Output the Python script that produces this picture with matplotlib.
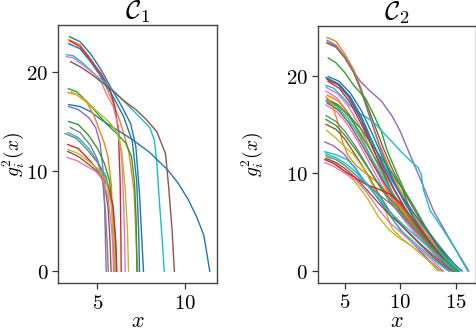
import matplotlib
matplotlib.use("Agg")
import matplotlib.pyplot as plt
from matplotlib.ticker import FuncFormatter, FixedLocator

plt.rcParams['mathtext.fontset'] = 'cm'

# curves of cluster C1 (x values, y values)
c1_x = [
    [3.4, 4.0, 4.6, 5.2, 5.8, 6.4, 6.9, 7.2, 7.4, 7.55, 7.64],
    [3.35, 4.0, 4.6, 5.2, 5.8, 6.3, 6.8, 7.1, 7.22, 7.3],
    [3.4, 4.0, 4.6, 5.2, 5.7, 6.0, 6.2, 6.3, 6.34, 6.36],
    [3.35, 4.0, 4.6, 5.2, 5.8, 6.5, 7.0, 7.25, 7.36, 7.41],
    [3.2, 3.6, 4.2, 4.8, 5.5, 6.2, 7.0, 7.5, 8.0, 8.25, 8.4, 8.55, 8.7, 8.83],
    [3.2, 3.6, 4.2, 4.8, 5.2, 5.5, 5.9, 6.2, 6.4, 6.5, 6.56, 6.59],
    [3.45, 4.0, 4.6, 5.2, 5.8, 6.5, 7.2, 7.8, 8.4, 8.9, 9.08, 9.28, 9.41],
    [3.35, 4.0, 4.6, 5.2, 6.0, 7.0, 8.0, 9.0, 9.6, 10.2, 10.7, 11.1, 11.3, 11.44],
    [3.33, 3.8, 4.4, 5.0, 5.5, 6.1, 6.6, 6.95, 7.12, 7.22, 7.26],
    [3.33, 3.8, 4.4, 4.8, 5.1, 5.4, 5.6, 5.8, 5.88, 5.92],
    [3.5, 4.2, 4.8, 5.4, 5.8, 6.15, 6.4, 6.6, 6.72, 6.78],
    [3.35, 3.9, 4.5, 4.9, 5.15, 5.3, 5.4, 5.46, 5.5],
    [3.35, 3.9, 4.5, 5.0, 5.4, 5.7, 5.85, 5.95, 6.0],
    [3.45, 4.0, 4.6, 5.0, 5.3, 5.45, 5.55, 5.62],
    [3.3, 3.9, 4.5, 5.0, 5.5, 5.8, 5.95, 6.02],
    [3.15, 3.8, 4.4, 5.0, 5.5, 5.85, 6.0, 6.08],
    [3.3, 3.9, 4.6, 5.2, 5.6, 5.9, 6.05, 6.11],
    [3.3, 3.9, 4.5, 5.0, 5.5, 5.8, 5.95, 6.02],
    [3.3, 3.9, 4.5, 5.0, 5.4, 5.6, 5.72, 5.78],
    [3.25, 3.8, 4.4, 4.9, 5.3, 5.6, 5.8, 5.9, 5.95],
]
c1_y = [
    [23.5, 23.0, 21.8, 20.2, 18.3, 16.5, 14.8, 12.5, 8.0, 3.0, 0.0],
    [23.2, 22.7, 21.3, 19.6, 17.3, 15.0, 12.0, 8.0, 3.0, 0.0],
    [23.1, 22.5, 21.2, 19.8, 18.3, 16.5, 14.0, 9.0, 4.0, 0.0],
    [22.8, 22.3, 21.0, 19.5, 17.8, 15.5, 13.0, 9.0, 4.0, 0.0],
    [21.7, 21.6, 20.8, 19.8, 18.8, 17.6, 16.2, 15.3, 14.4, 13.2, 11.0, 7.0, 3.5, 0.0],
    [21.5, 21.4, 20.6, 19.8, 19.0, 17.8, 16.5, 14.5, 11.0, 7.0, 3.0, 0.0],
    [21.0, 20.5, 19.8, 19.0, 18.2, 17.1, 16.2, 15.2, 14.0, 11.8, 8.5, 4.1, 0.0],
    [16.7, 16.5, 16.0, 15.2, 14.3, 13.2, 11.9, 10.2, 8.9, 7.2, 5.4, 3.6, 1.5, 0.0],
    [18.3, 18.0, 17.0, 15.8, 14.8, 13.8, 12.9, 11.5, 9.0, 5.0, 0.0],
    [17.9, 17.7, 16.9, 15.6, 14.2, 12.8, 11.5, 8.5, 4.0, 0.0],
    [18.0, 17.3, 16.3, 15.4, 14.7, 13.8, 12.0, 8.0, 4.0, 0.0],
    [16.5, 16.2, 15.4, 14.4, 12.8, 10.5, 7.0, 3.0, 0.0],
    [15.0, 14.7, 13.6, 12.3, 10.8, 9.0, 6.0, 3.0, 0.0],
    [14.4, 13.9, 12.6, 11.2, 9.0, 6.0, 3.0, 0.0],
    [13.9, 13.4, 12.3, 11.0, 9.5, 7.0, 4.0, 0.0],
    [13.8, 13.3, 12.2, 10.9, 9.2, 7.0, 3.5, 0.0],
    [12.7, 12.3, 11.0, 9.8, 8.5, 6.5, 3.0, 0.0],
    [12.2, 11.8, 11.0, 10.3, 9.0, 6.5, 3.0, 0.0],
    [12.0, 11.5, 10.7, 10.0, 8.8, 6.5, 3.0, 0.0],
    [11.4, 11.1, 10.5, 10.0, 9.2, 7.5, 4.5, 2.0, 0.0],
]
c1_colors = ['tab:blue', 'tab:orange', 'tab:red', 'tab:blue', 'tab:cyan',
             'tab:pink', 'tab:brown', 'tab:blue', 'tab:green', 'tab:orange',
             'tab:olive', 'tab:purple', 'tab:green', 'tab:gray', 'tab:cyan',
             'tab:gray', 'tab:red', 'tab:olive', 'tab:brown', 'tab:pink']

# curves of cluster C2
c2_x = [
    [3.4, 4.2, 5.0, 5.8, 6.4, 7.2, 8.3, 9.3, 10.0, 10.7, 11.6, 13.0, 14.7, 16.2],
    [3.4, 4.2, 5.0, 5.8, 6.5, 7.2, 8.0, 9.0, 10.0, 11.0, 12.0, 13.0, 14.0, 15.0, 15.3],
    [3.4, 4.2, 5.0, 5.8, 6.5, 7.2, 7.8, 8.5, 9.3, 10.2, 11.2, 12.2, 13.2, 14.2, 15.1],
    [3.4, 4.2, 5.0, 5.8, 6.5, 7.3, 8.2, 9.2, 10.2, 11.2, 12.2, 13.2, 14.2, 15.0],
    [3.5, 4.2, 5.0, 5.8, 6.9, 7.6, 8.3, 8.8, 9.5, 10.4, 11.3, 12.3, 13.5, 14.5, 15.2],
    [3.3, 4.0, 4.8, 5.5, 6.2, 7.0, 7.8, 8.6, 9.2, 10.0, 11.0, 11.6, 11.9, 12.1, 12.7, 13.9, 15.0, 16.1],
    [3.5, 4.5, 5.5, 6.5, 7.5, 8.5, 9.5, 10.5, 11.5, 12.5, 13.5, 14.5, 15.3],
    [3.4, 4.5, 5.5, 6.5, 7.5, 8.5, 9.5, 10.5, 11.5, 12.5, 13.5, 14.5, 15.1],
    [3.4, 4.5, 5.5, 6.5, 7.5, 8.5, 9.3, 9.6, 10.0, 11.0, 12.0, 13.0, 14.0, 14.8],
    [3.5, 4.5, 5.5, 6.5, 7.5, 8.5, 9.5, 10.5, 11.5, 12.5, 13.5, 14.5, 15.0],
    [3.3, 4.3, 5.3, 6.3, 7.3, 8.3, 9.3, 10.3, 11.3, 12.3, 13.3, 14.3, 15.1],
    [3.3, 4.3, 5.3, 6.3, 7.3, 8.3, 9.3, 10.3, 11.3, 12.3, 13.3, 14.3, 14.8],
    [3.4, 4.4, 5.4, 6.4, 7.4, 8.4, 9.4, 10.4, 11.4, 12.4, 13.4, 14.4, 15.3],
    [3.4, 4.4, 5.4, 6.4, 7.4, 8.4, 9.2, 10.0, 11.0, 12.0, 13.0, 14.0, 15.0, 15.3],
    [3.3, 4.3, 5.3, 6.3, 7.3, 8.3, 9.3, 10.3, 11.3, 12.3, 13.3, 14.3, 15.4],
    [3.4, 4.4, 5.4, 6.4, 7.4, 8.4, 9.4, 10.4, 11.4, 12.4, 13.4, 14.4, 15.0],
    [3.3, 4.3, 5.3, 6.3, 7.3, 8.3, 9.3, 10.3, 11.3, 12.3, 13.3, 14.3, 14.7],
    [3.4, 4.4, 5.4, 6.4, 7.4, 8.4, 9.4, 10.2, 10.8, 11.6, 12.6, 13.6, 14.6, 15.2],
    [3.3, 3.8, 4.3, 4.8, 5.3, 6.0, 7.0, 8.0, 9.0, 10.0, 11.0, 12.0, 13.0, 14.0, 14.9],
    [3.3, 4.2, 5.0, 6.0, 7.0, 8.0, 9.0, 10.0, 11.0, 12.0, 13.0, 14.0, 14.9],
    [3.3, 4.2, 5.0, 6.0, 7.0, 8.0, 9.0, 10.0, 11.0, 12.0, 13.0, 14.0, 15.0],
    [3.3, 4.2, 5.0, 6.0, 7.0, 8.0, 9.0, 10.0, 11.0, 12.0, 13.0, 14.0, 14.4],
    [3.35, 4.2, 5.0, 5.8, 6.7, 7.6, 8.5, 9.3, 10.2, 11.2, 12.4, 13.4],
    [3.2, 4.0, 4.9, 5.8, 6.7, 7.6, 8.5, 9.5, 10.5, 11.5, 12.5, 13.5, 13.8],
    [3.2, 4.2, 5.2, 6.0, 6.7, 7.5, 8.2, 9.2, 10.0, 11.0, 12.0, 13.0, 14.0, 14.4],
    [3.3, 4.2, 5.0, 6.0, 7.0, 8.0, 9.0, 10.0, 11.0, 12.0, 13.0, 14.0, 14.7],
    [3.3, 4.2, 5.0, 6.0, 7.0, 8.0, 9.0, 10.0, 11.0, 12.0, 13.0, 13.6],
    [3.3, 4.2, 5.0, 6.0, 7.0, 8.0, 9.0, 10.0, 11.0, 12.0, 13.0, 14.0, 14.6],
    [3.2, 4.0, 5.0, 6.0, 7.0, 8.0, 9.0, 10.0, 11.0, 12.0, 13.0, 14.0, 14.8],
    [3.2, 4.0, 5.0, 6.0, 7.0, 8.0, 9.0, 10.0, 11.0, 12.0, 13.0, 13.9],
    [3.3, 4.2, 5.2, 6.2, 7.2, 8.2, 9.2, 10.2, 11.2, 12.2, 13.2, 14.2, 14.9],
    [3.3, 4.3, 5.3, 6.3, 7.3, 8.3, 9.3, 10.3, 11.3, 12.3, 13.3, 14.3, 15.0, 15.6],
]
c2_y = [
    [23.6, 23.1, 21.9, 20.4, 19.4, 18.5, 17.4, 15.8, 14.3, 12.4, 10.0, 6.2, 2.8, 0.0],
    [23.9, 23.5, 22.2, 20.6, 18.6, 16.0, 13.3, 10.6, 8.3, 6.3, 4.5, 2.9, 1.5, 0.3, 0.0],
    [23.3, 22.9, 21.8, 20.3, 18.4, 16.4, 14.6, 12.5, 10.4, 8.4, 6.4, 4.5, 2.8, 1.3, 0.0],
    [23.4, 23.0, 21.9, 20.4, 18.3, 15.6, 12.6, 9.8, 7.5, 5.6, 3.9, 2.4, 1.0, 0.0],
    [21.8, 21.3, 20.3, 19.0, 17.6, 16.0, 14.3, 12.4, 10.5, 8.2, 6.5, 4.5, 2.5, 1.0, 0.0],
    [19.0, 18.7, 17.8, 16.9, 16.2, 15.7, 15.0, 14.0, 13.3, 12.3, 11.2, 10.6, 9.9, 8.3, 6.2, 4.2, 2.2, 0.0],
    [19.9, 19.4, 18.2, 16.4, 14.0, 11.4, 8.9, 6.8, 4.9, 3.3, 1.9, 0.7, 0.0],
    [19.7, 19.1, 17.8, 15.8, 13.2, 10.6, 8.3, 6.3, 4.6, 3.1, 1.8, 0.6, 0.0],
    [19.6, 19.0, 17.6, 15.4, 12.7, 10.0, 8.0, 7.0, 6.2, 4.6, 3.2, 1.9, 0.8, 0.0],
    [19.4, 18.7, 17.2, 15.0, 12.6, 10.3, 8.2, 6.3, 4.6, 3.0, 1.6, 0.5, 0.0],
    [18.8, 18.2, 16.9, 14.9, 12.5, 10.1, 8.0, 6.2, 4.6, 3.2, 1.9, 0.8, 0.0],
    [18.4, 17.7, 16.2, 14.0, 11.6, 9.3, 7.3, 5.6, 4.1, 2.8, 1.6, 0.5, 0.0],
    [18.0, 17.4, 16.0, 13.9, 11.5, 9.3, 7.4, 5.8, 4.4, 3.1, 1.9, 0.8, 0.0],
    [17.6, 17.0, 15.8, 14.1, 12.2, 10.2, 8.2, 6.8, 5.2, 3.8, 2.5, 1.2, 0.2, 0.0],
    [17.4, 16.8, 15.6, 13.8, 11.8, 9.8, 8.0, 6.4, 5.0, 3.6, 2.3, 1.1, 0.0],
    [17.2, 16.5, 15.1, 13.2, 11.2, 9.3, 7.6, 6.0, 4.5, 3.1, 1.8, 0.6, 0.0],
    [17.0, 16.3, 14.9, 13.0, 10.9, 8.8, 6.9, 5.3, 3.9, 2.7, 1.5, 0.4, 0.0],
    [17.5, 16.9, 15.9, 14.6, 13.0, 11.4, 9.8, 8.4, 6.5, 4.6, 3.0, 1.6, 0.5, 0.0],
    [17.8, 17.2, 15.5, 13.2, 11.8, 10.8, 9.9, 9.0, 7.9, 6.6, 5.0, 3.5, 2.2, 1.0, 0.0],
    [15.9, 15.3, 14.3, 12.7, 10.8, 8.9, 7.2, 5.8, 4.6, 3.4, 2.2, 1.0, 0.0],
    [15.5, 14.9, 13.9, 12.4, 10.7, 9.0, 7.5, 6.2, 4.8, 3.5, 2.2, 1.0, 0.0],
    [15.0, 14.5, 13.5, 11.8, 10.0, 8.0, 6.2, 4.8, 3.6, 2.5, 1.4, 0.4, 0.0],
    [14.4, 13.6, 12.7, 11.9, 10.5, 8.6, 6.6, 4.3, 3.3, 2.4, 1.3, 0.0],
    [13.2, 12.8, 12.0, 10.7, 9.3, 8.0, 6.6, 5.0, 3.6, 2.4, 1.2, 0.2, 0.0],
    [12.2, 11.9, 11.4, 10.5, 9.3, 8.4, 7.6, 5.5, 4.2, 3.2, 2.2, 1.2, 0.3, 0.0],
    [11.8, 11.4, 10.8, 9.8, 8.8, 7.9, 7.0, 6.0, 4.8, 3.4, 2.0, 0.8, 0.0],
    [11.7, 11.0, 10.2, 9.0, 7.5, 5.6, 4.2, 3.3, 2.6, 1.6, 0.6, 0.0],
    [11.5, 11.1, 10.5, 9.5, 8.3, 7.0, 5.8, 4.8, 3.7, 2.6, 1.6, 0.6, 0.0],
    [11.4, 11.0, 10.2, 9.5, 8.8, 8.4, 7.9, 7.0, 5.5, 4.0, 2.5, 1.1, 0.0],
    [11.1, 10.7, 10.0, 9.3, 8.0, 6.4, 5.0, 4.0, 3.0, 2.0, 1.0, 0.0],
    [12.0, 11.6, 10.9, 9.9, 8.6, 7.2, 5.9, 4.8, 3.8, 2.8, 1.8, 0.8, 0.0],
    [19.8, 19.2, 17.9, 15.9, 13.6, 11.3, 9.2, 7.4, 5.8, 4.3, 2.9, 1.5, 0.6, 0.0],
]
c2_colors = ['tab:purple', 'tab:orange', 'tab:brown', 'tab:gray', 'tab:green',
             'tab:cyan', 'tab:blue', 'tab:blue', 'tab:red', 'tab:red',
             'tab:pink', 'tab:pink', 'tab:orange', 'tab:green', 'tab:cyan',
             'tab:brown', 'tab:pink', 'tab:green', 'tab:orange', 'tab:gray',
             'tab:green', 'tab:brown', 'tab:olive', 'tab:purple', 'tab:cyan',
             'tab:gray', 'tab:olive', 'tab:brown', 'tab:red', 'tab:pink',
             'tab:cyan', 'tab:blue']

fig = plt.figure(figsize=(4.77, 3.32), dpi=100)
ax1 = fig.add_axes([0.1216, 0.1476, 0.3333, 0.7771])
ax2 = fig.add_axes([0.666, 0.1485, 0.3320, 0.774])

fmt = FuncFormatter(lambda v, p: r'$%g$' % v)

for ax, xs, ys, cols, xt, name, lx in [(ax1, c1_x, c1_y, c1_colors, [5, 10], r'$\mathcal{C}_1$', -0.20),
                                       (ax2, c2_x, c2_y, c2_colors, [5, 10, 15], r'$\mathcal{C}_2$', -0.33)]:
    for x, y, c in zip(xs, ys, cols):
        ax.plot(x, y, color=c, lw=1.0)
    ax.xaxis.set_major_locator(FixedLocator(xt))
    ax.yaxis.set_major_locator(FixedLocator([0, 10, 20]))
    ax.xaxis.set_major_formatter(fmt)
    ax.yaxis.set_major_formatter(fmt)
    ax.tick_params(labelsize=15, color='#333333', length=4, width=0.9, pad=3)
    for s in ax.spines.values():
        s.set_color('#444444')
        s.set_linewidth(1.0)
    ax.set_title(name, fontsize=19, pad=3)
    ax.set_xlabel(r'$x$', fontsize=16, labelpad=-1)
    ax.set_ylabel(r'$g_i^2(x)$', fontsize=14)
    ax.yaxis.set_label_coords(lx, 0.5)

fig.savefig('out.png', dpi=100)
